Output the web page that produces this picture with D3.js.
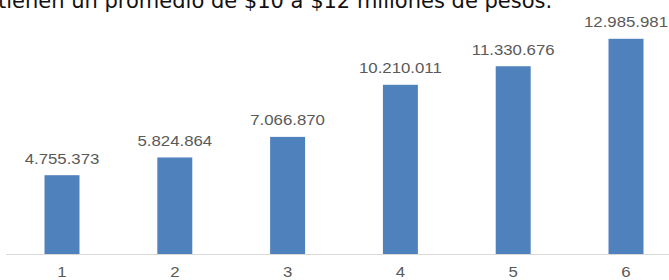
<!DOCTYPE html>
<html>
<head>
<meta charset="utf-8">
<script src="https://cdn.jsdelivr.net/npm/d3@7"></script>
<style>
  body { margin: 0; background: #fff; }
  #graf { width: 669px; height: 280px; overflow: hidden; }
  .axis path { stroke: #d9d9d9; }
  .axis text { fill: #595959; font-family: "Liberation Sans", Arial, sans-serif; font-size: 14px; }
</style>
</head>
<body>
<div id="graf"></div>
<script>
// Datos
const titulo = "tienen un promedio de $10 a $12 millones de pesos."
const categorias = ["1", "2", "3", "4", "5", "6"]
const valores = [4755373, 5824864, 7066870, 10210011, 11330676, 12985981]

const data = categorias.map((c, i) => ({ cat: c, valor: valores[i] }))

const anchoTotal = 669
const altoTotal = 280

const svg = d3
  .select("#graf")
  .append("svg")
  .attr("width", anchoTotal)
  .attr("height", altoTotal)

// Texto cortado arriba (viene del parrafo anterior)
svg
  .append("text")
  .attr("x", -2)
  .attr("y", 8)
  .attr("font-family", "DejaVu Sans, Verdana, sans-serif")
  .attr("font-size", 21)
  .attr("fill", "#111")
  .text(titulo)

// Escaladores
const x = d3
  .scaleBand()
  .domain(categorias)
  .range([5.6, 682.4])
  .paddingInner(0.69)
  .paddingOuter(0.345)
const y = d3.scaleLinear().domain([0, 14000000]).range([254, 22])

const fmt = d3.formatLocale({ decimal: ",", thousands: ".", grouping: [3], currency: ["$", ""] }).format(",d")

// Barras
svg
  .selectAll("rect.bar")
  .data(data)
  .join("rect")
  .attr("class", "bar")
  .attr("x", (d) => x(d.cat))
  .attr("y", (d) => y(d.valor))
  .attr("width", x.bandwidth())
  .attr("height", (d) => y(0) - y(d.valor))
  .attr("fill", "#4f81bd")

// Etiquetas
svg
  .selectAll("text.lbl")
  .data(data)
  .join("text")
  .attr("class", "lbl")
  .attr("transform", (d) => `translate(${x(d.cat) + x.bandwidth() / 2}, ${y(d.valor) - 11.5}) scale(1.2,1)`)
  .attr("text-anchor", "middle")
  .attr("font-family", "Liberation Sans, Arial, sans-serif")
  .attr("font-size", 14)
  .attr("fill", "#595959")
  .text((d) => fmt(d.valor))

// Eje
const xAxisGroup = svg
  .append("g")
  .attr("class", "axis")
  .attr("transform", `translate(0, ${y(0)})`)
  .call(d3.axisBottom(x).tickSize(0).tickSizeOuter(0))
xAxisGroup.select(".domain").attr("stroke", "#d9d9d9")
xAxisGroup
  .selectAll(".tick text")
  .attr("y", 23)
  .attr("dy", 0)
  .attr("transform", "scale(1.2,1)")
</script>
</body>
</html>
